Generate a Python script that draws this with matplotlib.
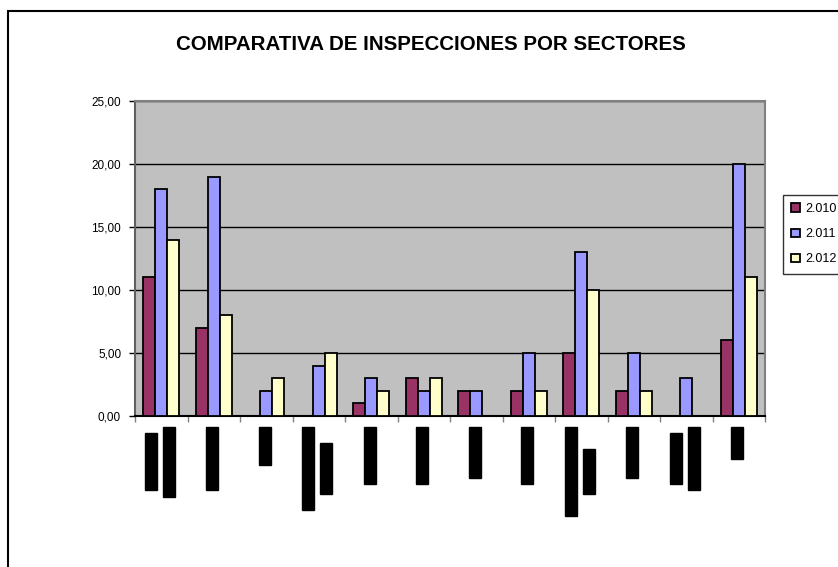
import matplotlib
matplotlib.use("Agg")
import matplotlib.pyplot as plt
import matplotlib.patches as patches
import numpy as np

# datos por sector (etiquetas tachadas en el original)
sectores = ["█" * 9 + "\n" + "█" * 11, "█" * 10, "█" * 6, "█" * 13 + "\n" + "█" * 8,
            "█" * 9, "█" * 9, "█" * 8, "█" * 9, "█" * 14 + "\n" + "█" * 7,
            "█" * 8, "█" * 8 + "\n" + "█" * 10, "█" * 5]
anios = ["2.010", "2.011", "2.012"]
v2010 = [11, 7, 0, 0, 1, 3, 2, 2, 5, 2, 0, 6]
v2011 = [18, 19, 2, 4, 3, 2, 2, 5, 13, 5, 3, 20]
v2012 = [14, 8, 3, 5, 2, 3, 0, 2, 10, 2, 0, 11]
yticks = [0, 5, 10, 15, 20, 25]
colores = ["#993366", "#9999FF", "#FFFFCC"]

W, H, DPI = 838, 567, 100
fig = plt.figure(figsize=(W / DPI, H / DPI), dpi=DPI)

# borde del area del grafico
fig.patches.append(patches.Rectangle((7.5 / W, -0.1), 1.2, 1.1 - 11 / H,
                                     transform=fig.transFigure, fill=False,
                                     edgecolor="black", linewidth=1.5))

ax = fig.add_axes([135 / W, 1 - 416 / H, 630 / W, 315 / H])
ax.set_facecolor("#C0C0C0")

x = np.arange(len(sectores))
bw = 12 / 52.5
for k, vals in enumerate([v2010, v2011, v2012]):
    ax.bar(x + (k - 1) * bw, vals, width=bw, color=colores[k], edgecolor="black",
           linewidth=1.3, label=anios[k], zorder=3)

ax.set_xlim(-0.5, len(sectores) - 0.5)
ax.set_ylim(0, 25)
ax.set_yticks(yticks)
ax.set_yticklabels(["%d,00" % v for v in yticks], fontsize=8.5, family="Liberation Sans")
ax.yaxis.grid(True, color="black", linewidth=1, zorder=1)
ax.set_axisbelow(True)

ax.set_xticks(np.arange(len(sectores) + 1) - 0.5)
ax.set_xticklabels([])
ax.tick_params(axis="x", length=4, color="#808080", width=1)
ax.tick_params(axis="y", length=4, color="black", width=1, pad=6)

for s in ["top", "right"]:
    ax.spines[s].set_color("#808080")
    ax.spines[s].set_linewidth(1.5)
ax.spines["left"].set_color("#606060")
ax.spines["left"].set_linewidth(1.5)
ax.spines["bottom"].set_color("black")
ax.spines["bottom"].set_linewidth(1.5)

# etiquetas de sectores (rotadas, tapadas en negro)
fs_px = 10.5
char_px = 0.602 * fs_px
for i, lab in enumerate(sectores):
    lineas = lab.split("\n")
    maxlen = max(len(l) for l in lineas) * char_px
    n = len(lineas)
    for j, l in enumerate(lineas):
        dx = -1.5 + (j - (n - 1) / 2) * 18
        dy = -(11 + maxlen / 2)
        ax.annotate(l, xy=(i, 0), xycoords=("data", "axes fraction"),
                    xytext=(dx * 72 / DPI, dy * 72 / DPI), textcoords="offset points",
                    rotation=90, ha="center", va="center", fontsize=fs_px * 72 / DPI,
                    family="DejaVu Sans Mono", color="black", annotation_clip=False,
                    bbox=dict(facecolor="black", edgecolor="black", pad=0))

fig.text(431 / W, 1 - 44 / H, "COMPARATIVA DE INSPECCIONES POR SECTORES",
         ha="center", va="center", fontsize=14.8, fontweight="bold",
         family="Liberation Sans")

leg = ax.legend(loc="upper left", bbox_to_anchor=(783 / W, 1 - 195 / H),
                bbox_transform=fig.transFigure, frameon=True, fancybox=False,
                edgecolor="black", handlelength=0.7, handleheight=0.7,
                labelspacing=1.05, borderpad=0.65, handletextpad=0.45, borderaxespad=0,
                prop={"family": "Liberation Sans", "size": 9})
leg.get_frame().set_linewidth(1)

fig.savefig("out.png", dpi=DPI)
